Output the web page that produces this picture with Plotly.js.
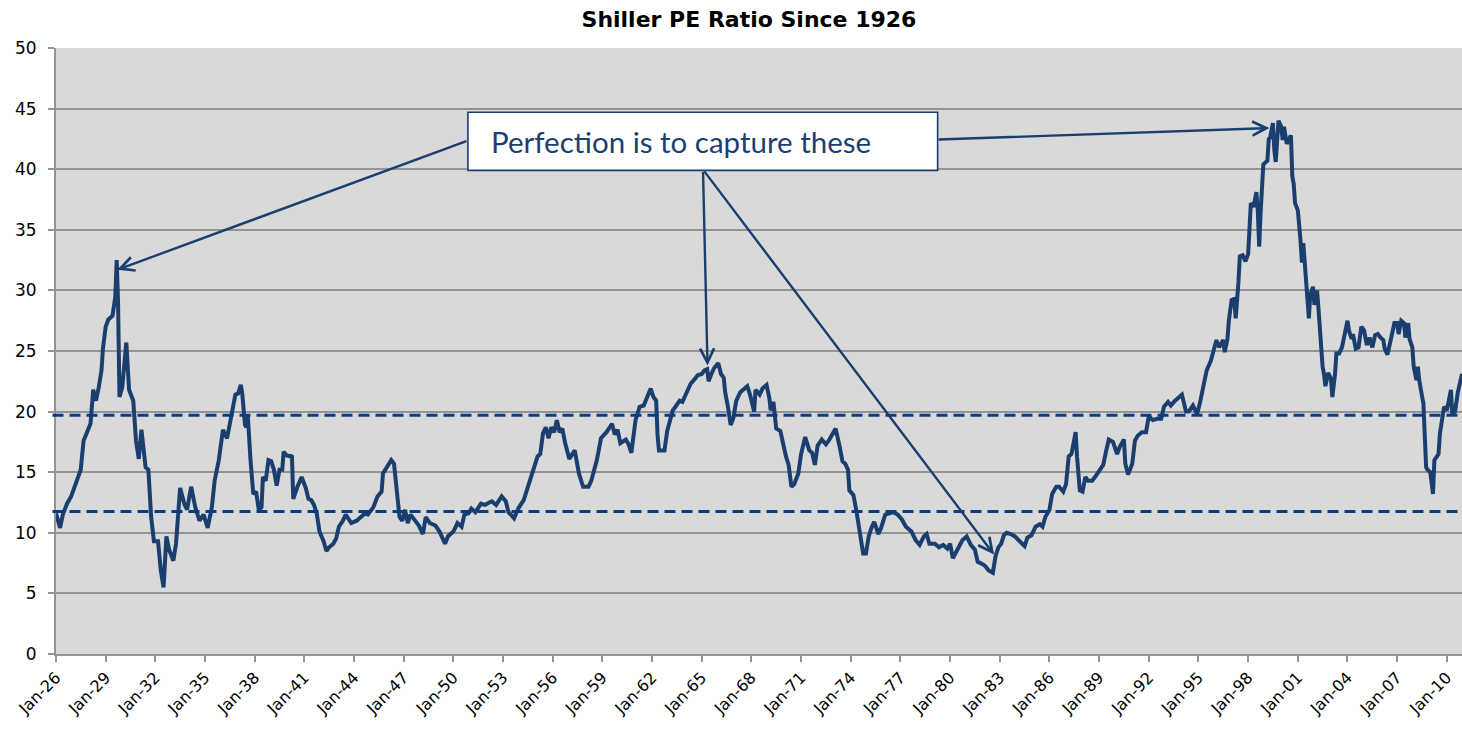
<!DOCTYPE html>
<html>
<head>
<meta charset="utf-8">
<script src="https://cdn.plot.ly/plotly-3.0.1.min.js"></script>
<style>html,body{margin:0;padding:0;background:#fff;}#chart{width:1462px;height:732px;}</style>
</head>
<body>
<div id="chart"></div>
<script>
// Shiller PE (CAPE) monthly readings
var peDates = [
"1926-01","1926-04","1926-06","1926-09","1926-12","1927-04","1927-07","1927-09","1927-11","1928-02",
"1928-04","1928-06","1928-08","1928-10","1928-11","1929-01","1929-03","1929-06","1929-08","1929-09",
"1929-10","1929-11","1930-01","1930-04","1930-06","1930-09","1930-11","1931-01","1931-03","1931-06",
"1931-08","1931-10","1931-12","1932-03","1932-05","1932-07","1932-09","1932-11","1933-02","1933-04",
"1933-07","1933-10","1933-12","1934-03","1934-06","1934-09","1934-12","1935-03","1935-06","1935-08",
"1935-11","1936-02","1936-05","1936-08","1936-11","1937-01","1937-03","1937-04","1937-06","1937-07",
"1937-08","1937-10","1937-12","1938-02","1938-04","1938-06","1938-07","1938-09","1938-11","1939-01",
"1939-03","1939-05","1939-07","1939-09","1939-10","1939-12","1940-03","1940-04","1940-05","1940-08",
"1940-11","1941-02","1941-04","1941-06","1941-08","1941-10","1941-12","1942-03","1942-05","1942-07",
"1942-10","1942-12","1943-02","1943-05","1943-07","1943-11","1944-03","1944-06","1944-09","1944-11",
"1945-03","1945-06","1945-09","1945-10","1946-02","1946-04","1946-06","1946-08","1946-10","1946-12",
"1947-02","1947-04","1947-06","1947-10","1947-12","1948-03","1948-05","1948-08","1948-12","1949-03",
"1949-07","1949-09","1950-01","1950-04","1950-07","1950-09","1950-12","1951-02","1951-05","1951-09",
"1951-12","1952-03","1952-05","1952-08","1952-12","1953-03","1953-05","1953-09","1953-12","1954-04",
"1954-06","1954-09","1954-12","1955-02","1955-04","1955-06","1955-08","1955-10","1955-12","1956-02",
"1956-04","1956-06","1956-08","1956-10","1957-01","1957-05","1957-08","1957-11","1958-03","1958-05",
"1958-09","1958-12","1959-04","1959-08","1959-10","1959-12","1960-02","1960-06","1960-08","1960-10",
"1961-01","1961-04","1961-07","1961-09","1961-12","1962-02","1962-04","1962-05","1962-06","1962-08",
"1962-10","1962-12","1963-02","1963-04","1963-06","1963-09","1963-11","1964-02","1964-05","1964-08",
"1964-10","1965-01","1965-03","1965-05","1965-06","1965-08","1965-10","1966-01","1966-03","1966-05",
"1966-06","1966-08","1966-10","1966-12","1967-02","1967-05","1967-08","1967-10","1967-12","1968-03",
"1968-04","1968-07","1968-09","1968-12","1969-02","1969-03","1969-05","1969-07","1969-10","1969-12",
"1970-02","1970-04","1970-06","1970-08","1970-11","1971-01","1971-04","1971-07","1971-09","1971-11",
"1972-01","1972-04","1972-07","1972-09","1972-12","1973-02","1973-05","1973-07","1973-09","1973-11",
"1973-12","1974-03","1974-05","1974-07","1974-09","1974-10","1974-12","1975-02","1975-04","1975-06",
"1975-09","1975-11","1976-02","1976-05","1976-08","1976-11","1977-02","1977-05","1977-09","1977-12",
"1978-03","1978-06","1978-08","1978-10","1979-02","1979-05","1979-08","1979-11","1980-01","1980-03",
"1980-07","1980-10","1981-01","1981-04","1981-07","1981-09","1981-11","1982-02","1982-05","1982-08",
"1982-10","1982-12","1983-02","1983-04","1983-06","1983-09","1983-12","1984-03","1984-06","1984-07",
"1984-09","1984-12","1985-03","1985-06","1985-08","1985-10","1986-01","1986-03","1986-06","1986-08",
"1986-11","1987-01","1987-03","1987-05","1987-08","1987-09","1987-11","1988-01","1988-03","1988-05",
"1988-08","1988-10","1989-01","1989-04","1989-06","1989-08","1989-11","1990-02","1990-04","1990-07",
"1990-08","1990-10","1991-01","1991-03","1991-05","1991-08","1991-11","1992-01","1992-04","1992-07",
"1992-10","1992-12","1993-03","1993-05","1993-08","1993-11","1994-01","1994-04","1994-06","1994-09",
"1994-12","1995-02","1995-05","1995-07","1995-10","1995-12","1996-02","1996-04","1996-07","1996-08",
"1996-10","1996-11","1997-01","1997-03","1997-04","1997-06","1997-07","1997-09","1997-11","1998-01",
"1998-02","1998-03","1998-05","1998-07","1998-08","1998-09","1998-10","1998-11","1998-12","1999-03",
"1999-04","1999-05","1999-07","1999-08","1999-09","1999-11","2000-01","2000-02","2000-03","2000-05",
"2000-07","2000-08","2000-09","2000-10","2000-11","2001-01","2001-03","2001-04","2001-05","2001-06",
"2001-07","2001-09","2001-10","2001-12","2002-01","2002-03","2002-04","2002-05","2002-07","2002-08",
"2002-09","2002-11","2003-01","2003-02","2003-04","2003-05","2003-07","2003-09","2003-11","2004-01",
"2004-02","2004-04","2004-05","2004-07","2004-09","2004-11","2005-01","2005-03","2005-05","2005-07",
"2005-09","2005-11","2006-01","2006-03","2006-04","2006-06","2006-07","2006-09","2006-11","2007-01",
"2007-02","2007-04","2007-06","2007-07","2007-09","2007-10","2007-12","2008-01","2008-03","2008-04",
"2008-05","2008-07","2008-08","2008-10","2008-11","2009-01","2009-03","2009-04","2009-07","2009-08",
"2009-11","2010-01","2010-04","2010-05","2010-07","2010-09","2010-12"
];
var peValues = [
11.6,10.4,11.5,12.4,13.0,14.3,15.2,17.6,18.2,19.0,
21.8,20.9,22.0,23.4,25.2,27.0,27.6,27.9,29.5,32.5,
29.0,21.2,22.0,25.7,21.8,20.9,17.6,16.1,18.5,15.4,
15.2,11.3,9.3,9.3,6.9,5.5,9.7,8.6,7.7,9.1,
13.7,12.4,11.9,13.8,12.1,11.0,11.5,10.4,12.1,14.3,
16.0,18.5,17.8,19.6,21.4,21.5,22.2,21.5,18.9,18.7,
19.7,16.0,13.2,13.4,11.9,12.1,14.6,14.3,16.0,15.9,
15.2,13.9,15.2,15.2,16.7,16.4,16.3,16.4,12.8,13.8,
14.6,13.7,12.8,12.7,12.3,11.6,10.1,9.3,8.5,8.8,
9.1,9.5,10.5,11.0,11.5,10.8,11.0,11.3,11.6,11.5,
12.1,13.0,13.4,14.9,15.7,16.0,15.7,13.8,11.3,11.0,
11.9,10.8,11.5,10.9,10.6,9.9,11.3,10.8,10.6,10.1,
9.1,9.7,10.1,10.8,10.5,11.5,11.6,12.0,11.7,12.4,
12.3,12.5,12.6,12.3,13.0,12.6,11.7,11.2,12.0,12.7,
13.4,14.6,15.7,16.3,16.5,18.2,18.7,17.8,18.7,18.3,
19.3,18.3,18.6,17.4,16.1,16.8,14.9,13.8,13.8,14.3,
16.0,17.8,18.3,19.0,18.1,18.5,17.4,17.7,17.3,16.6,
19.3,20.4,20.5,21.0,21.9,21.2,20.9,18.1,16.8,16.8,
16.8,18.4,19.3,20.1,20.4,20.9,20.8,21.5,22.3,22.7,
23.0,23.1,23.4,23.5,22.5,23.1,23.6,24.0,23.1,22.8,
21.6,20.4,18.9,19.5,20.9,21.6,21.9,22.1,21.4,20.0,
21.8,21.4,21.9,22.2,21.1,20.1,20.8,18.6,18.4,17.2,
16.3,15.6,13.8,14.0,14.9,16.5,17.9,16.8,16.6,15.6,
17.2,17.7,17.3,17.6,18.3,18.6,17.1,15.9,15.7,15.2,
13.5,13.1,11.9,10.5,8.7,8.3,8.3,9.7,10.4,10.9,
9.9,10.4,11.5,11.6,11.7,11.5,11.1,10.5,10.1,9.4,
9.0,9.7,9.9,9.1,9.1,8.8,9.0,8.7,9.1,7.9,
8.8,9.4,9.7,9.0,8.6,7.6,7.5,7.3,6.9,6.7,
8.1,8.8,9.1,9.8,10.0,9.9,9.7,9.3,9.0,8.9,
9.6,9.8,10.5,10.7,10.5,11.3,11.9,13.2,13.8,13.8,
13.4,14.0,16.3,16.5,18.3,16.3,13.5,13.4,14.6,14.3,
14.3,14.6,15.1,15.6,16.7,17.7,17.5,16.5,17.1,17.7,
15.7,14.8,15.7,17.6,18.0,18.3,18.3,19.6,19.3,19.4,
19.4,20.4,20.8,20.5,20.9,21.2,21.4,20.0,20.0,20.5,
19.8,20.7,22.3,23.4,24.2,25.0,25.9,25.3,25.9,24.9,
26.0,27.5,29.2,29.3,27.7,30.7,32.8,32.9,32.4,33.0,
35.2,37.2,36.9,38.1,36.6,33.6,36.3,38.2,40.4,40.7,
42.5,42.6,43.8,41.6,40.6,44.0,43.5,42.4,43.5,42.1,
42.6,42.8,39.4,38.8,37.2,36.6,34.1,32.3,33.9,32.3,
31.1,27.7,29.6,30.3,28.8,30.0,28.5,26.7,23.7,23.1,
22.1,23.2,22.7,21.2,23.1,24.8,24.8,25.3,26.4,27.5,
26.7,26.0,26.4,25.2,25.3,27.0,26.7,25.5,26.1,25.3,
26.3,26.4,26.1,25.9,25.2,24.7,25.2,26.4,27.3,27.3,
26.4,27.5,27.3,26.1,27.3,26.0,25.3,23.7,22.6,23.7,
22.6,21.3,20.7,15.4,15.2,15.0,13.2,16.0,16.5,18.2,
20.4,20.1,21.8,19.8,20.0,21.6,23.1
];
// Reference levels drawn as dashed lines
var refLevels = [19.7, 11.75];
// Callout text and the points its arrows mark
var calloutText = "Perfection is to capture these";
var arrowTargets = [
  {date: "1929-09-13", value: 31.7},
  {date: "1965-05-08", value: 23.8},
  {date: "1982-08-28", value: 8.2},
  {date: "1999-04-15", value: 43.4}
];

var navy = "#1A3F6F";
var dashBlue = "#0A3C86";
var gridGray = "#949494";

var trace = {
  x: peDates, y: peValues, type: "scatter", mode: "lines",
  line: {color: navy, width: 4, shape: "linear"},
  hoverinfo: "skip", showlegend: false
};

var shapes = refLevels.map(function (v) {
  return {type: "line", xref: "paper", yref: "y", x0: -0.0025, x1: 1, y0: v, y1: v,
    line: {color: dashBlue, width: 3, dash: "11px,6px"}, layer: "above"};
});
// callout box
shapes.push({type: "rect", xref: "x", yref: "y", x0: "1950-11-18", x1: "1979-04-01", y0: 39.9, y1: 44.7,
  fillcolor: "#FFFFFF", line: {color: navy, width: 1.6}, layer: "above"});

var tails = [[350.7, -129.3], [-4.5, -195], [-291, -385], [-332.3, 11.6]];
var annotations = arrowTargets.map(function (t, i) {
  return {x: t.date, y: t.value, xref: "x", yref: "y", text: "", showarrow: true,
    ax: tails[i][0], ay: tails[i][1], arrowhead: 5, arrowsize: 1.15, arrowwidth: 2.4,
    arrowcolor: navy, standoff: 0, startstandoff: 0};
});
annotations.push({x: "1952-02-25", y: 42.3, xref: "x", yref: "y", xanchor: "left", yanchor: "middle",
  text: calloutText, showarrow: false, font: {family: "Lato, 'Open Sans', sans-serif", size: 29.5, color: "#1C3F72"}});

var layout = {
  width: 1462, height: 732,
  margin: {l: 56, r: 0, t: 48, b: 78, pad: 0},
  paper_bgcolor: "#FFFFFF", plot_bgcolor: "#D9D9D9",
  title: {text: "<b>Shiller PE Ratio Since 1926</b>", xref: "container", yref: "container",
    x: 0.5123, xanchor: "center", y: 0.974, yanchor: "middle",
    font: {family: "'DejaVu Sans', Verdana, sans-serif", size: 22, color: "#000"}},
  xaxis: {type: "date", range: ["1926-01-01", "2010-12-01"], tick0: "1926-01-01", dtick: "M36",
    tickformat: "%b-%y", tickangle: -45, ticks: "outside", ticklen: 6, tickwidth: 2, tickcolor: gridGray,
    showgrid: false, zeroline: false, showline: true, linecolor: gridGray, linewidth: 2,
    tickfont: {family: "'DejaVu Sans', Verdana, sans-serif", size: 16, color: "#000"}, fixedrange: true},
  yaxis: {range: [0, 50], dtick: 5, tick0: 0, ticks: "outside", ticklen: 6, tickwidth: 2, tickcolor: gridGray,
    showgrid: true, gridcolor: gridGray, gridwidth: 2, zeroline: false, showline: true,
    linecolor: gridGray, linewidth: 2, ticklabelstandoff: 8,
    tickfont: {family: "'DejaVu Sans', Verdana, sans-serif", size: 17, color: "#000"}, fixedrange: true},
  shapes: shapes,
  annotations: annotations,
  showlegend: false
};

Plotly.newPlot("chart", [trace], layout, {displayModeBar: false, staticPlot: true});
</script>
</body>
</html>
